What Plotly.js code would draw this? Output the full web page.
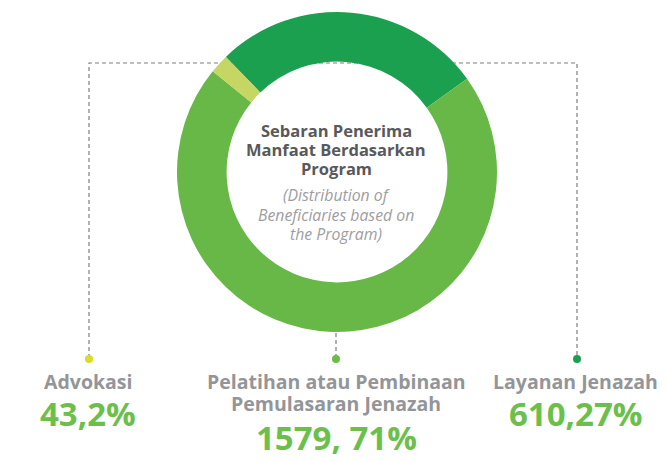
<!DOCTYPE html>
<html>
<head>
<meta charset="utf-8">
<script src="https://cdn.plot.ly/plotly-3.0.1.min.js"></script>
<style>html,body{margin:0;padding:0;background:#fff;}#chart{width:667px;height:462px;}</style>
</head>
<body>
<div id="chart"></div>
<script>
// Data (slice order: clockwise from upper-left)
var programs = ["Layanan Jenazah", "Pelatihan atau Pembinaan Pemulasaran Jenazah", "Advokasi"];
var values = [610.27, 1579.71, 43.2];
var valueLabels = ["610,27%", "1579, 71%", "43,2%"];
var labelLines = [["Layanan Jenazah"], ["Pelatihan atau Pembinaan", "Pemulasaran Jenazah"], ["Advokasi"]];
var sliceColors = ["#1BA04F", "#67B846", "#C5D663"];
var dotColors = ["#1A9F4E", "#6ABD45", "#D7DF23"];
var centerTitle = ["Sebaran Penerima", "Manfaat Berdasarkan", "Program"];
var centerSub = ["(Distribution of", "Beneficiaries based on", "the Program)"];

var W = 667, H = 462;
function px(x){ return x / W; }
function py(y){ return 1 - y / H; }

// layout positions for each legend column (same order as programs)
var colX = [575, 336, 88];
var valueY = [413, 437, 413];

var annotations = [];
function addText(text, x, y, font){
  annotations.push({xref: 'paper', yref: 'paper', x: px(x), y: py(y), text: text,
    showarrow: false, xanchor: 'center', yanchor: 'middle', font: font});
}
labelLines.forEach(function(lines, i){
  lines.forEach(function(line, j){
    addText('<b>' + line + '</b>', colX[i], 381 + j * 22,
      {family: 'Open Sans', size: 19.5, color: '#939598'});
  });
  addText('<b>' + valueLabels[i] + '</b>', colX[i], valueY[i],
    {family: 'Open Sans', size: 33, color: '#6CBF4B'});
});
centerTitle.forEach(function(line, j){
  addText('<b>' + line + '</b>', 336, 130 + j * 19, {family: 'Open Sans', size: 16.5, color: '#58595B'});
});
centerSub.forEach(function(line, j){
  addText('<i>' + line + '</i>', 336, 195 + j * 19.5, {family: 'Open Sans', size: 15.8, color: '#9D9D9F'});
});

var dashStyle = {color: '#7E7E7E', width: 1.2, dash: '4px,3px'};
var shapes = [
  {type: 'path', xref: 'paper', yref: 'paper', layer: 'below',
   path: 'M ' + px(89) + ',' + py(358) + ' L ' + px(89) + ',' + py(63) + ' L ' + px(577) + ',' + py(63) + ' L ' + px(577) + ',' + py(358),
   line: dashStyle},
  {type: 'line', xref: 'paper', yref: 'paper', layer: 'below',
   x0: px(336), y0: py(333), x1: px(336), y1: py(358), line: dashStyle}
];
[577, 336, 89].forEach(function(cx, i){
  shapes.push({type: 'circle', xref: 'paper', yref: 'paper',
    x0: px(cx - 4), x1: px(cx + 4), y0: py(363), y1: py(355),
    fillcolor: dotColors[i], line: {width: 0}});
});

var trace = {
  type: 'pie', labels: programs, values: values, sort: false,
  direction: 'clockwise', rotation: -44, hole: 0.69,
  marker: {colors: sliceColors, line: {width: 0}},
  textinfo: 'none', hoverinfo: 'none',
  domain: {x: [px(177), px(497)], y: [py(332), py(12)]}
};

Plotly.newPlot('chart', [trace], {
  width: W, height: H, margin: {l: 0, r: 0, t: 0, b: 0},
  paper_bgcolor: '#ffffff', showlegend: false,
  annotations: annotations, shapes: shapes
}, {staticPlot: true});
</script>
</body>
</html>
